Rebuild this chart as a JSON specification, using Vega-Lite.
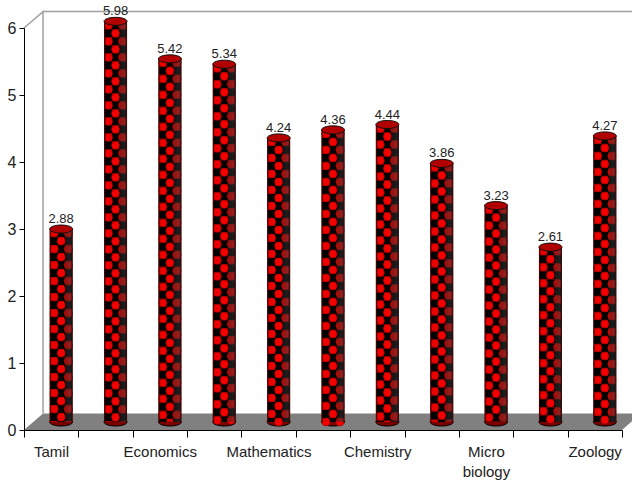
{
  "$schema": "https://vega.github.io/schema/vega-lite/v6.json",
  "width": 598,
  "height": 402,
  "autosize": {"type": "none"},
  "padding": {"left": 24, "top": 28, "right": 10, "bottom": 52},
  "background": "white",
  "title": {"text": "g", "font": "Liberation Serif", "fontSize": 24, "fontWeight": "normal", "anchor": "middle", "dx": -5, "offset": 31, "baseline": "alphabetic", "color": "#222"},
  "config": {"view": {"stroke": null}},
  "datasets": {
    "bars": [
      {"pos": 1, "value": 2.88},
      {"pos": 2, "value": 5.98},
      {"pos": 3, "value": 5.42},
      {"pos": 4, "value": 5.34},
      {"pos": 5, "value": 4.24},
      {"pos": 6, "value": 4.36},
      {"pos": 7, "value": 4.44},
      {"pos": 8, "value": 3.86},
      {"pos": 9, "value": 3.23},
      {"pos": 10, "value": 2.61},
      {"pos": 11, "value": 4.27}
    ],
    "floor": [
      {"depth": 0, "from": 0.5, "to": 11.5},
      {"depth": 0.245, "from": 0.85, "to": 11.85}
    ],
    "wall": [
      {"edge": "side", "px": 0.5, "py": 6},
      {"edge": "side", "px": 0.85, "py": 6.245},
      {"edge": "side", "px": 0.85, "py": 0.245},
      {"edge": "top", "px": 0.85, "py": 6.245},
      {"edge": "top", "px": 11.85, "py": 6.245}
    ]
  },
  "encoding": {
    "x": {
      "field": "pos", "type": "quantitative",
      "scale": {"domain": [0.5, 11.5], "nice": false, "zero": false, "padding": 0},
      "axis": {
        "title": null, "grid": false, "zindex": 1,
        "values": [0.5, 1.5, 2.5, 3.5, 4.5, 5.5, 6.5, 7.5, 8.5, 9.5, 10.5, 11.5],
        "labelExpr": "['Tamil', '', 'Economics', '', 'Mathematics', '', 'Chemistry', '', ['Micro', 'biology'], '', 'Zoology', ''][floor(datum.value)]",
        "labelOffset": 27, "labelOverlap": false, "labelFlush": false, "labelBound": false,
        "labelFont": "Liberation Sans", "labelFontSize": 15, "labelColor": "#222", "labelPadding": 7, "labelLineHeight": 20,
        "labelAngle": 0, "labelAlign": "center",
        "tickSize": 7, "tickColor": "#000", "domainColor": "#000"
      }
    },
    "y": {
      "field": "value", "type": "quantitative",
      "scale": {"domain": [0, 6], "nice": false, "padding": 0},
      "axis": {
        "title": null, "grid": false, "zindex": 1,
        "values": [0, 1, 2, 3, 4, 5, 6], "format": "d",
        "labelFont": "Liberation Sans", "labelFontSize": 16, "labelColor": "#222", "labelPadding": 3,
        "tickSize": 5, "tickColor": "#000", "domainColor": "#000"
      }
    }
  },
  "layer": [
    {
      "data": {"name": "floor"},
      "mark": {"type": "area", "orient": "horizontal", "color": "#808080"},
      "encoding": {
        "y": {"field": "depth", "type": "quantitative"},
        "x": {"field": "from", "type": "quantitative"},
        "x2": {"field": "to"}
      }
    },
    {
      "data": {"name": "wall"},
      "mark": {"type": "line", "color": "#a0a0a0", "strokeWidth": 1.5},
      "encoding": {
        "x": {"field": "px", "type": "quantitative"},
        "y": {"field": "py", "type": "quantitative"},
        "detail": {"field": "edge"},
        "order": {"value": 0}
      }
    },
    {
      "data": {"name": "bars"},
      "layer": [
        {
          "mark": {"type": "point", "filled": true, "shape": "M-1,0A1,0.35,0,1,0,1,0A1,0.35,0,1,0,-1,0Z", "size": 529, "xOffset": 10, "yOffset": -8, "color": "#7a0000", "opacity": 1, "stroke": "#000", "strokeWidth": 1},
          "encoding": {"y": {"datum": 0}}
        },
        {
          "mark": {"type": "bar", "orient": "vertical", "size": 23, "xOffset": 10, "yOffset": -8, "y2Offset": -8, "color": "#d80000"},
          "encoding": {"y2": {"datum": 0}}
        },
        {
          "mark": {"type": "rule", "xOffset": 3, "yOffset": -8, "y2Offset": -8, "stroke": "#000", "strokeWidth": 7.5, "strokeDash": [8, 8], "strokeDashOffset": 8},
          "encoding": {"y2": {"datum": 0}}
        },
        {
          "mark": {"type": "rule", "xOffset": 10, "yOffset": -8, "y2Offset": -8, "stroke": "#000", "strokeWidth": 7.5, "strokeDash": [8, 8], "strokeDashOffset": 0},
          "encoding": {"y2": {"datum": 0}}
        },
        {
          "mark": {"type": "rule", "xOffset": 17, "yOffset": -8, "y2Offset": -8, "stroke": "#000", "strokeWidth": 7.5, "strokeDash": [8, 8], "strokeDashOffset": 8},
          "encoding": {"y2": {"datum": 0}}
        },
        {
          "mark": {"type": "rule", "xOffset": 3, "yOffset": -8, "y2Offset": -8, "stroke": "#8a0000", "strokeWidth": 8.8, "strokeCap": "round", "strokeDash": [0, 16], "strokeDashOffset": 12},
          "encoding": {"y2": {"datum": 0}}
        },
        {
          "mark": {"type": "rule", "xOffset": 10, "yOffset": -8, "y2Offset": -8, "stroke": "#8a0000", "strokeWidth": 8.8, "strokeCap": "round", "strokeDash": [0, 16], "strokeDashOffset": 4},
          "encoding": {"y2": {"datum": 0}}
        },
        {
          "mark": {"type": "rule", "xOffset": 17, "yOffset": -8, "y2Offset": -8, "stroke": "#8a0000", "strokeWidth": 8.8, "strokeCap": "round", "strokeDash": [0, 16], "strokeDashOffset": 12},
          "encoding": {"y2": {"datum": 0}}
        },
        {
          "mark": {"type": "rule", "xOffset": 3, "yOffset": -8, "y2Offset": -8, "stroke": "#f60000", "strokeWidth": 7.4, "strokeCap": "round", "strokeDash": [0, 16], "strokeDashOffset": 12},
          "encoding": {"y2": {"datum": 0}}
        },
        {
          "mark": {"type": "rule", "xOffset": 10, "yOffset": -8, "y2Offset": -8, "stroke": "#f60000", "strokeWidth": 7.4, "strokeCap": "round", "strokeDash": [0, 16], "strokeDashOffset": 4},
          "encoding": {"y2": {"datum": 0}}
        },
        {
          "mark": {"type": "rule", "xOffset": 17, "yOffset": -8, "y2Offset": -8, "stroke": "#f60000", "strokeWidth": 7.4, "strokeCap": "round", "strokeDash": [0, 16], "strokeDashOffset": 12},
          "encoding": {"y2": {"datum": 0}}
        },
        {
          "mark": {"type": "bar", "orient": "vertical", "size": 23, "xOffset": 10, "yOffset": -8, "y2Offset": -8,
            "color": {"x1": 0, "x2": 1, "y1": 0, "y2": 0, "gradient": "linear", "stops": [
              {"offset": 0, "color": "rgba(0,0,0,0.8)"},
              {"offset": 0.08, "color": "rgba(0,0,0,0.05)"},
              {"offset": 0.66, "color": "rgba(0,0,0,0)"},
              {"offset": 0.69, "color": "rgba(40,40,40,0.5)"},
              {"offset": 0.9, "color": "rgba(60,60,60,0.5)"},
              {"offset": 1, "color": "rgba(0,0,0,0.85)"}
            ]}},
          "encoding": {"y2": {"datum": 0}}
        },
        {
          "mark": {"type": "point", "filled": true, "shape": "M-1,0A1,0.35,0,1,0,1,0A1,0.35,0,1,0,-1,0Z", "size": 529, "xOffset": 10, "yOffset": -8, "color": "#b00000", "opacity": 1, "stroke": "#111", "strokeWidth": 1}
        },
        {
          "mark": {"type": "text", "xOffset": 10, "yOffset": -14, "baseline": "alphabetic", "align": "center", "font": "Liberation Sans", "fontSize": 13, "color": "#222"},
          "encoding": {"text": {"field": "value", "type": "quantitative", "format": ".2f"}}
        }
      ]
    }
  ]
}
